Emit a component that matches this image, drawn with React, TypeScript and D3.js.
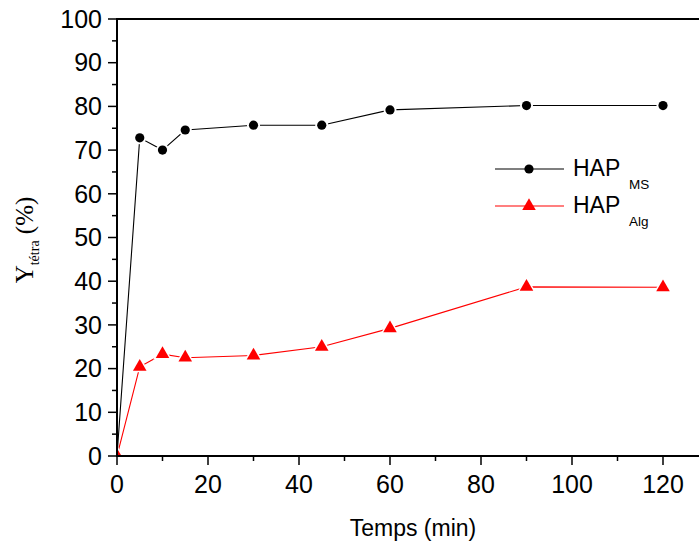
import React from "react";
import * as d3 from "d3";

const timesMin = [0, 5, 10, 15, 30, 45, 60, 90, 120];
const hapMS = [0, 72.8, 70.0, 74.6, 75.7, 75.7, 79.2, 80.2, 80.2];
const hapAlg = [0, 20.4, 23.3, 22.5, 23.0, 25.0, 29.2, 38.7, 38.6];
const xMajorTicks = [0, 20, 40, 60, 80, 100, 120];
const xMinorTicks = [10, 30, 50, 70, 90, 110, 130];
const yMajorTicks = [0, 10, 20, 30, 40, 50, 60, 70, 80, 90, 100];
const yMinorTicks = [5, 15, 25, 35, 45, 55, 65, 75, 85, 95];

const W = 699;
const H = 546;
const left = 117;
const top = 19;
const bottom = 456;

export default function App() {
  const x = d3.scaleLinear().domain([0, 130]).range([left, left + 130 * 4.55]);
  const y = d3.scaleLinear().domain([0, 100]).range([bottom, top]);
  const right = x(130);

  const msPts = timesMin.map((t, i) => [x(t), y(hapMS[i])] as [number, number]);
  const algPts = timesMin.map((t, i) => [x(t), y(hapAlg[i])] as [number, number]);
  const line = d3.line();
  const tri = d3.symbol(d3.symbolTriangle, 80)()!;
  const font = "Arial, 'Liberation Sans', sans-serif";
  const serif = "'Times New Roman', 'Liberation Serif', serif";

  return (
    <svg width={W} height={H} style={{ position: "absolute", left: 0, top: 0, background: "#fff" }}>
      <defs>
        <clipPath id="plot">
          <rect x={left} y={top} width={right - left} height={bottom - top} />
        </clipPath>
      </defs>
      <g clipPath="url(#plot)">
        <path d={line(msPts)!} fill="none" stroke="#000" strokeWidth={1.1} />
        {msPts.map((p, i) => (
          <g key={"m" + i}>
            <circle cx={p[0]} cy={p[1]} r={6.5} fill="#fff" />
            <circle cx={p[0]} cy={p[1]} r={4.6} fill="#000" />
          </g>
        ))}
        <path d={line(algPts)!} fill="none" stroke="#ff0000" strokeWidth={1.1} />
        {algPts.map((p, i) => (
          <g key={"a" + i} transform={`translate(${p[0]},${p[1]})`}>
            <path d={d3.symbol(d3.symbolTriangle, 150)()!} fill="#fff" />
            <path d={tri} fill="#ff0000" />
          </g>
        ))}
      </g>
      {/* frame */}
      <line x1={left} x2={right} y1={top} y2={top} stroke="#000" strokeWidth={2} />
      <line x1={left} x2={right} y1={bottom} y2={bottom} stroke="#000" strokeWidth={2} />
      <line x1={left} x2={left} y1={top - 1} y2={bottom + 1} stroke="#000" strokeWidth={2} />
      {/* y ticks */}
      {yMajorTicks.map((v) => (
        <g key={"ym" + v}>
          <line x1={left - 9} x2={left} y1={y(v)} y2={y(v)} stroke="#000" strokeWidth={1.5} />
          <text x={102} y={y(v)} dy="0.35em" textAnchor="end" fontFamily={font} fontSize={25} fill="#000">
            {v}
          </text>
        </g>
      ))}
      {yMinorTicks.map((v) => (
        <line key={"yn" + v} x1={left - 5} x2={left} y1={y(v)} y2={y(v)} stroke="#000" strokeWidth={1.5} />
      ))}
      {/* x ticks */}
      {xMajorTicks.map((v) => (
        <g key={"xm" + v}>
          <line x1={x(v)} x2={x(v)} y1={bottom} y2={bottom + 9} stroke="#000" strokeWidth={1.5} />
          <text x={x(v)} y={493} textAnchor="middle" fontFamily={font} fontSize={25} fill="#000">
            {v}
          </text>
        </g>
      ))}
      {xMinorTicks.map((v) => (
        <line key={"xn" + v} x1={x(v)} x2={x(v)} y1={bottom} y2={bottom + 5} stroke="#000" strokeWidth={1.5} />
      ))}
      {/* axis titles */}
      <text x={413} y={536} textAnchor="middle" fontFamily={font} fontSize={23} fill="#000">
        Temps (min)
      </text>
      <text transform="translate(33,240) rotate(-90)" textAnchor="middle" fontFamily={serif} fontSize={25} fill="#000">
        <tspan>Y</tspan>
        <tspan fontSize={14} dy={6}>tétra</tspan>
        <tspan dy={-6}> (%)</tspan>
      </text>
      {/* legend */}
      <line x1={495} x2={564} y1={169} y2={169} stroke="#000" strokeWidth={1.1} />
      <circle cx={529} cy={169} r={4.6} fill="#000" />
      <text x={573} y={176} fontFamily={font} fontSize={23} fill="#000">
        HAP
      </text>
      <text x={629} y={189} fontFamily={font} fontSize={13.5} fill="#000">
        MS
      </text>
      <line x1={495} x2={564} y1={206} y2={206} stroke="#ff0000" strokeWidth={1.1} />
      <path d={tri} transform="translate(529,206)" fill="#ff0000" />
      <text x={573} y={213} fontFamily={font} fontSize={23} fill="#000">
        HAP
      </text>
      <text x={629} y={226} fontFamily={font} fontSize={13.5} fill="#000">
        Alg
      </text>
    </svg>
  );
}
